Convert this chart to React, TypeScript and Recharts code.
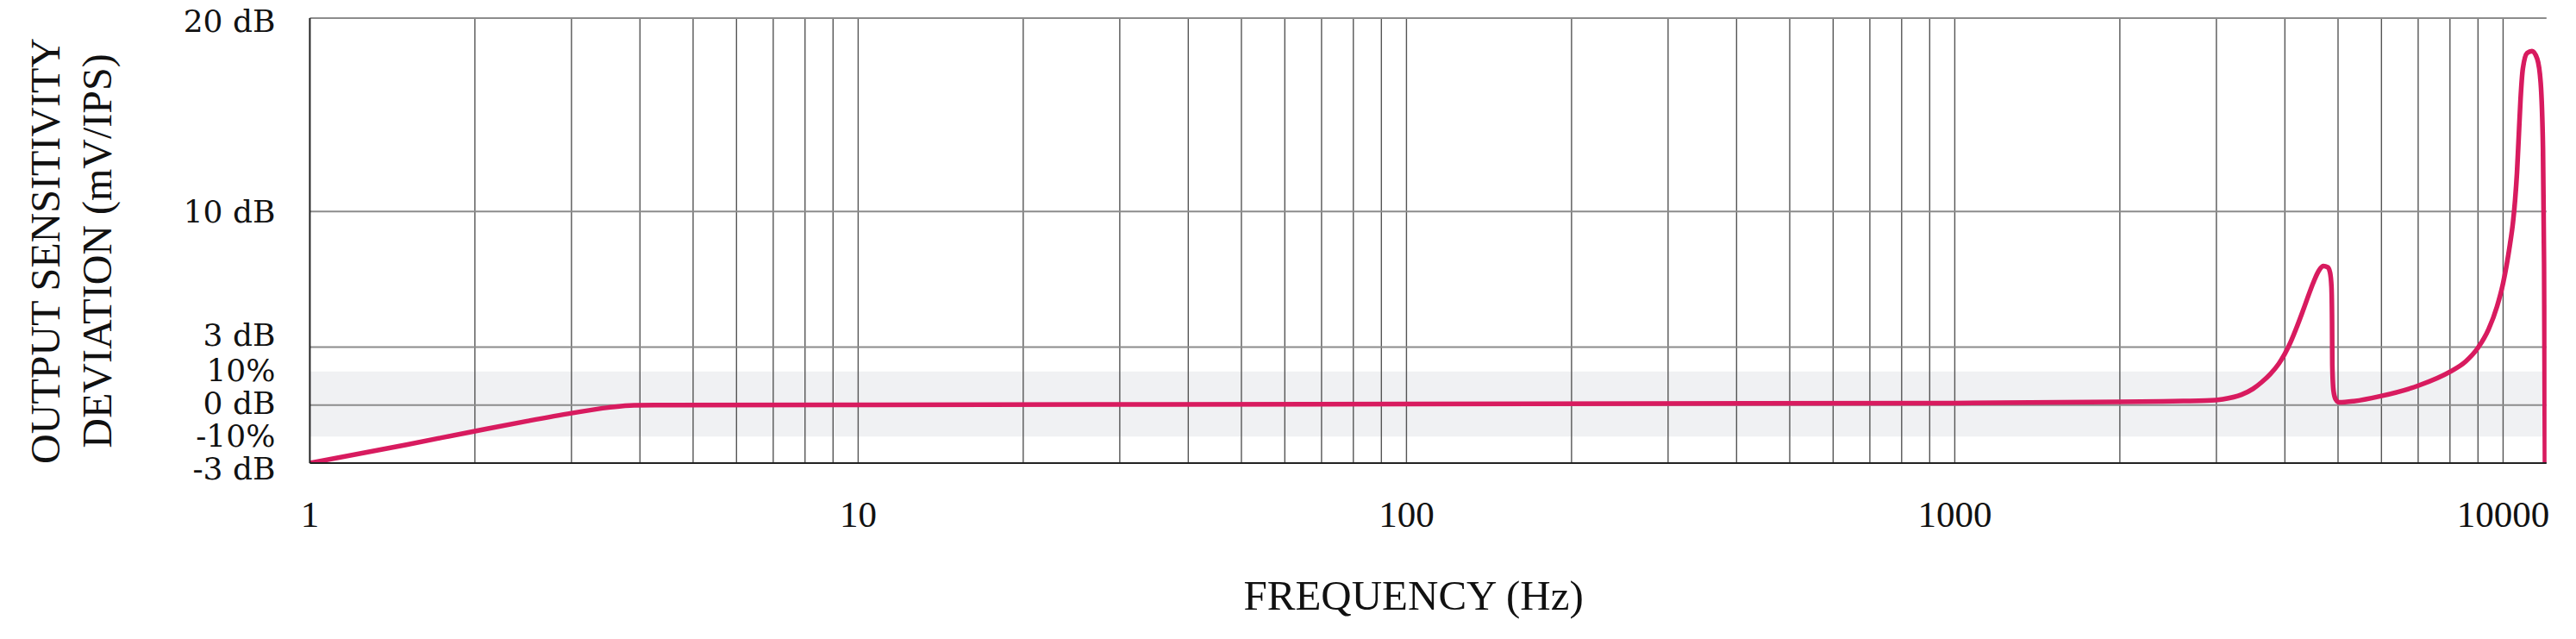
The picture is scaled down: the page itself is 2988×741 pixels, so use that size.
import React from 'react';
import { LineChart, Line, XAxis, YAxis, ReferenceLine, ReferenceArea } from 'recharts';

// Frequency response curve (Hz → dB deviation)
const freqHz = [
  1, 1.5, 2, 2.5, 3, 3.5, 3.9, 4.5, 10, 100, 1000, 2000, 2500, 2870, 3080,
  3334, 3499, 3627, 3761, 3899, 3996, 4094, 4194, 4295, 4401, 4507, 4618, 4702, 4789,
  4835, 4864, 4876, 4881, 4904, 4951, 5023, 5339, 6000, 7000, 8000, 8543, 9000, 9404,
  9750, 10000, 10292, 10420, 10517, 10600, 10680, 10760, 10866, 11066, 11292, 11540,
  11710, 11823, 11880, 11923,
];
const deviationDb = [
  -3, -2.05, -1.35, -0.82, -0.42, -0.13, -0.01, 0, 0.01, 0.05, 0.1, 0.16, 0.2, 0.23, 0.3,
  0.54, 0.84, 1.18, 1.6, 2.14, 2.63, 3.23, 3.95, 4.72, 5.55, 6.33, 6.97, 7.18, 7.12,
  6.85, 6.11, 4.33, 2.1, 0.77, 0.29, 0.14, 0.2, 0.47, 1.0, 1.72, 2.25, 2.96, 3.9,
  5.1, 6.3, 8.3, 9.4, 10.6, 12.0, 13.9, 15.8, 17.4, 18.2, 18.3, 17.9,
  16.65, 13.25, 7.3, -3,
];

const xDomain = [1, 12000];
const xTickValues = [1, 10, 100, 1000, 10000];
const xTickLabels = ['1', '10', '100', '1000', '10000'];
const gridFreqs = [
  2, 3, 4, 5, 6, 7, 8, 9, 10,
  20, 30, 40, 50, 60, 70, 80, 90, 100,
  200, 300, 400, 500, 600, 700, 800, 900, 1000,
  2000, 3000, 4000, 5000, 6000, 7000, 8000, 9000, 10000,
];

const yDomain = [-3, 20];
const yTickValues = [-3, -1.63, 0, 1.74, 3, 10, 20];
const yTickLabels = ['-3 dB', '-10%', '0 dB', '10%', '3 dB', '10 dB', '20 dB'];
const gridDb = [0, 3, 10, 20];
const bandDb = [-1.63, 1.74];

const yTitleLines = ['OUTPUT SENSITIVITY', 'DEVIATION (mV/IPS)'];
const xTitle = 'FREQUENCY (Hz)';

const data = freqHz.map((f, i) => ({ f, db: deviationDb[i] }));

// label nudges (style only) so stacked labels don't collide
const yLabelNudge: Record<string, number> = {
  '20': 3, '10': 0, '3': -14, '1.74': -1, '0': -2, '-1.63': -1, '-3': 6,
};

const TEXT = '#111111';
const CURVE = '#d81b5f';

function YTick(props: any) {
  const { x, y, payload } = props;
  const i = yTickValues.indexOf(payload.value);
  const nudge = yLabelNudge[String(payload.value)] || 0;
  return (
    <text
      x={x}
      y={y + nudge}
      dy="0.35em"
      textAnchor="end"
      fontFamily="'DejaVu Serif', serif"
      fontSize={36}
      fill={TEXT}
    >
      {yTickLabels[i]}
    </text>
  );
}

function XTick(props: any) {
  const { x, y, payload } = props;
  const i = xTickValues.indexOf(payload.value);
  return (
    <text
      x={x}
      y={y}
      dy="0.71em"
      textAnchor="middle"
      fontFamily="'Liberation Serif', serif"
      fontSize={43}
      fill={TEXT}
    >
      {xTickLabels[i]}
    </text>
  );
}

function YTitle(props: any) {
  const vb = props.viewBox || { x: 0, y: 0, width: 0, height: 0 };
  const cy = vb.y + vb.height / 2 + 12;
  return (
    <g>
      {yTitleLines.map((t, i) => (
        <text
          key={t}
          transform={`translate(${vb.x + 52 + i * 60}, ${cy}) rotate(-90)`}
          textAnchor="middle"
          dominantBaseline="central"
          fontFamily="'Liberation Serif', serif"
          fontSize={48}
          fill={TEXT}
        >
          {t}
        </text>
      ))}
    </g>
  );
}

function XTitle(props: any) {
  const vb = props.viewBox || { x: 0, y: 0, width: 0, height: 0 };
  return (
    <text
      x={vb.x + vb.width / 2 - 17}
      y={vb.y + 170}
      textAnchor="middle"
      fontFamily="'Liberation Serif', serif"
      fontSize={49}
      fill={TEXT}
    >
      {xTitle}
    </text>
  );
}

export default function App() {
  return (
    <div style={{ margin: -8, width: 2988, height: 741, background: '#ffffff' }}>
      <LineChart
        width={2988}
        height={741}
        data={data}
        margin={{ top: 21, right: 34.2, bottom: 0, left: 0 }}
      >
        <ReferenceArea
          y1={bandDb[0]}
          y2={bandDb[1]}
          fill="#f0f1f3"
          fillOpacity={1}
          stroke="none"
          ifOverflow="visible"
        />
        {gridFreqs.map((v) => (
          <ReferenceLine key={'vx' + v} x={v} stroke="#555555" strokeWidth={1.4} />
        ))}
        {gridDb.map((v) => (
          <ReferenceLine key={'hy' + v} y={v} stroke="#8c8c8c" strokeWidth={2} />
        ))}
        <XAxis
          dataKey="f"
          type="number"
          scale="log"
          domain={xDomain}
          allowDataOverflow
          ticks={xTickValues}
          interval={0}
          height={204}
          axisLine={{ stroke: '#222222', strokeWidth: 2 }}
          tickLine={false}
          tickSize={0}
          tickMargin={43}
          tick={(p: any) => <XTick {...p} />}
          label={{ content: (p: any) => <XTitle {...p} /> }}
        />
        <YAxis
          type="number"
          domain={yDomain}
          allowDataOverflow
          ticks={yTickValues}
          interval={0}
          width={359.4}
          axisLine={{ stroke: '#222222', strokeWidth: 2 }}
          tickLine={false}
          tickSize={0}
          tickMargin={40}
          tick={(p: any) => <YTick {...p} />}
          label={{ content: (p: any) => <YTitle {...p} /> }}
        />
        <Line
          dataKey="db"
          type="monotone"
          stroke={CURVE}
          strokeWidth={5.5}
          dot={false}
          activeDot={false}
          strokeLinejoin="round"
          strokeLinecap="round"
          isAnimationActive={false}
        />
      </LineChart>
    </div>
  );
}
